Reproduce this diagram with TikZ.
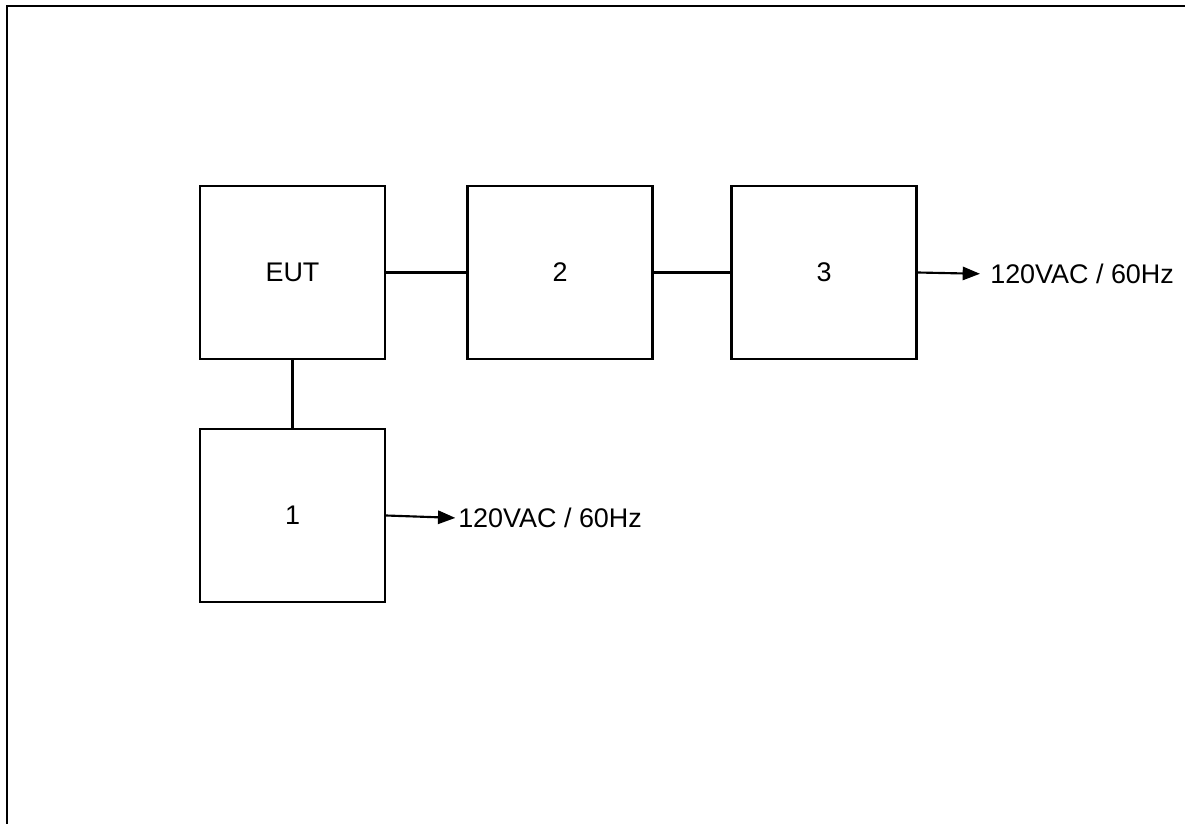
\documentclass[tikz,border=0pt]{standalone}
\usepackage{fontspec}
\setmainfont{Liberation Sans}
\usetikzlibrary{arrows.meta}
\begin{document}
\begin{tikzpicture}[x=0.75pt,y=-0.75pt,
  blk/.style={draw,line width=1.8pt,minimum width=185*0.75pt,minimum height=173*0.75pt,inner sep=0pt,font=\fontsize{20.2pt}{23pt}\selectfont},
  wire/.style={line width=1.6pt},
  arr/.style={wire,-{Triangle[length=13pt,width=10pt]}},
  lbl/.style={anchor=west,inner sep=0pt,font=\fontsize{20.2pt}{23pt}\selectfont}]
\useasboundingbox (0,0) rectangle (1185,824);
\draw[line width=2pt] (7,824) -- (7,6) -- (1185,6);
\node[blk] (eut) at (292.5,272.5) {EUT};
\node[blk] (b2) at (560,272.5) {2};
\node[blk] (b3) at (824,272.5) {3};
\node[blk] (b1) at (292.5,515.5) {1};
\draw[wire] (eut.east) -- (b2.west);
\draw[wire] (b2.east) -- (b3.west);
\draw[wire] (eut.south) -- (b1.north);
\node[lbl] (p3) at (990,274) {120VAC / 60Hz};
\node[lbl] (p1) at (458,518) {120VAC / 60Hz};
\draw[arr,shorten >=7.5pt] (b3.east) -- (p3.west);
\draw[arr,shorten >=2pt] (b1.east) -- (p1.west);
\end{tikzpicture}
\end{document}
